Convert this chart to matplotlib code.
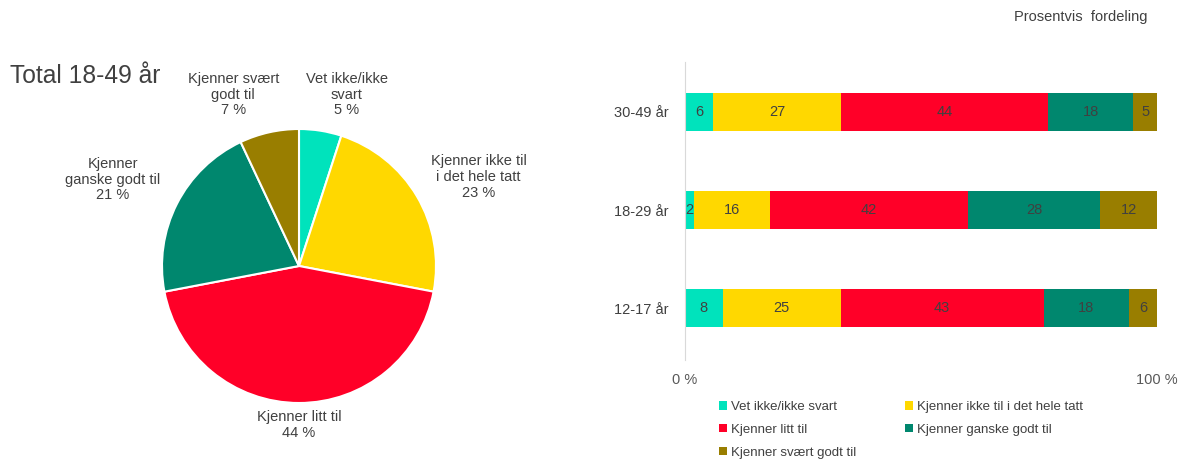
import numpy as np
import matplotlib.pyplot as plt

plt.rcParams['font.family'] = ['Liberation Sans', 'DejaVu Sans']

# ---------------------------------------------------------------- data
categories = ['Vet ikke/ikke svart', 'Kjenner ikke til i det hele tatt',
              'Kjenner litt til', 'Kjenner ganske godt til', 'Kjenner svært godt til']
colors = ['#00E3BC', '#FFD800', '#FF0028', '#00876E', '#997E00']

# pie: Total 18-49 år
pie_values = [5, 23, 44, 21, 7]
pie_labels = ['Vet ikke/ikke\nsvart', 'Kjenner ikke til\ni det hele tatt',
              'Kjenner litt til', 'Kjenner\nganske godt til', 'Kjenner svært\ngodt til']

# stacked bars, bottom to top
groups = ['12-17 år', '18-29 år', '30-49 år']
vet_ikke = [8, 2, 6]
ikke_til = [25, 16, 27]
litt_til = [43, 42, 44]
ganske_godt = [18, 28, 18]
svaert_godt = [6, 12, 5]
bar_series = [vet_ikke, ikke_til, litt_til, ganske_godt, svaert_godt]

# label anchor points around the pie (in pie radius units)
label_xy = [(0.35, 1.25), (1.31, 0.65), (0.0, -1.16), (-1.36, 0.63), (-0.48, 1.25)]

text_col = '#404040'
W, H = 1180, 459
fig = plt.figure(figsize=(W / 100, H / 100), dpi=100)

# ---------------------------------------------------------------- pie
cx, cy, r = 299, 266, 137
ax_pie = fig.add_axes([(cx - r) / W, (H - cy - r) / H, 2 * r / W, 2 * r / H])
wedges, _ = ax_pie.pie(pie_values, colors=colors, startangle=90, counterclock=False,
                       radius=1, wedgeprops=dict(edgecolor='white', linewidth=1.5))
ax_pie.set_xlim(-1, 1)
ax_pie.set_ylim(-1, 1)
ax_pie.set_aspect('equal')
ax_pie.axis('off')
for lab, val, (lx, ly) in zip(pie_labels, pie_values, label_xy):
    ax_pie.text(lx, ly, f'{lab}\n{val} %', ha='center', va='center', fontsize=10.5,
                color=text_col, linespacing=1.15)

fig.text(10 / W, 1 - 76 / H, 'Total 18-49 år', fontsize=17.7, color=text_col,
         ha='left', va='center')

# ---------------------------------------------------------------- bars
ax = fig.add_axes([685 / W, (H - 360) / H, 472 / W, 298 / H])
y = np.arange(len(groups))
left = np.zeros(len(groups))
for vals, col, name in zip(bar_series, colors, categories):
    bars = ax.barh(y, vals, left=left, height=0.39, color=col, label=name)
    ax.bar_label(bars, labels=[str(v) for v in vals], label_type='center',
                 fontsize=10.5, color=text_col)
    left += np.array(vals)

ax.set_xlim(0, 100)
ax.set_ylim(-0.53, 2.51)
ax.set_yticks(y)
ax.set_yticklabels(groups, fontsize=10.5, color=text_col)
ax.set_xticks([0, 100])
ax.set_xticklabels(['0 %', '100 %'], fontsize=10.5, color='#595959')
ax.tick_params(length=0)
ax.tick_params(axis='y', pad=12)
ax.tick_params(axis='x', pad=9)
for s in ['top', 'right', 'bottom']:
    ax.spines[s].set_visible(False)
ax.spines['left'].set_color('#D9D9D9')

fig.text(1147 / W, 1 - 17 / H, 'Prosentvis  fordeling', fontsize=10.5, color=text_col,
         ha='right', va='center')

# legend filled row-wise
handles, labels = ax.get_legend_handles_labels()
order = [0, 2, 4, 1, 3]
fig.legend([handles[i] for i in order], [labels[i] for i in order], ncol=2,
           loc='upper left', bbox_to_anchor=(719 / W, 1 - 401 / H), frameon=False,
           fontsize=9.5, labelcolor=text_col, handlelength=0.6, handleheight=0.6,
           handletextpad=0.3, labelspacing=0.82, columnspacing=3.7,
           borderpad=0, borderaxespad=0)

fig.savefig('out.png', dpi=100)
